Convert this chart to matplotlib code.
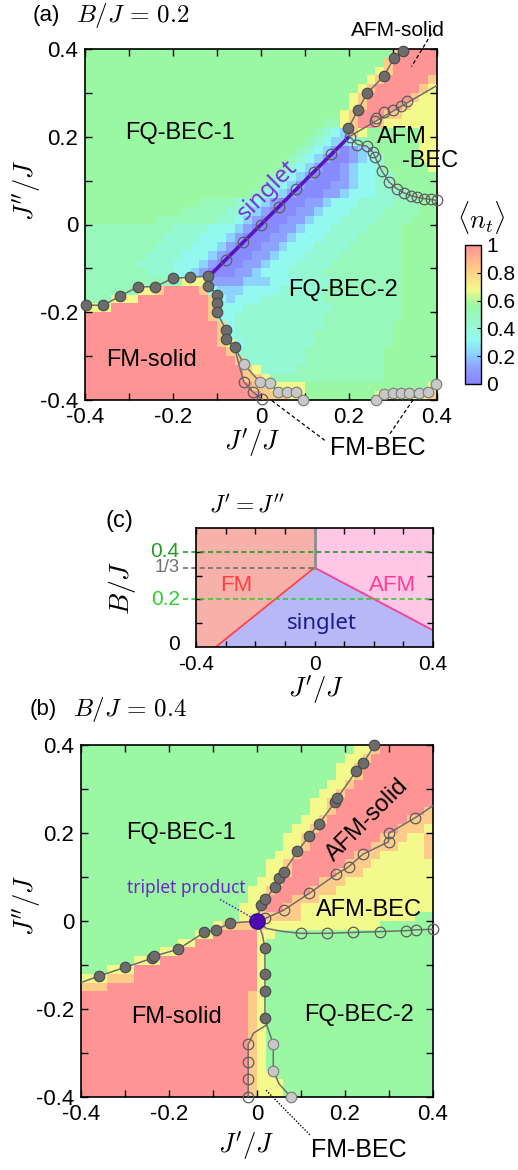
import matplotlib
matplotlib.use("Agg")
import matplotlib.pyplot as plt
import numpy as np
from matplotlib.colors import LinearSegmentedColormap

plt.rcParams['font.family'] = ['Liberation Sans', 'DejaVu Sans']
plt.rcParams['mathtext.fontset'] = 'cm'
plt.rcParams['axes.unicode_minus'] = False

W, H = 518, 1170

#%% <n_t> maps: one digit per 0.02 x 0.02 cell, rows from J''=0.4 (top) to -0.4
nt_levels = [0.03, 0.12, 0.22, 0.32, 0.42, 0.50, 0.57, 0.68, 0.82, 1.00]

nt_map_a = [
    "6666666666" "6666666666" "6666666666" "6666689999",
    "6666666666" "6666666666" "6666666666" "6666899999",
    "6666666666" "6666666666" "6666666666" "6667899999",
    "6666666666" "6666666666" "6666666666" "6678999998",
    "6666666666" "6666666666" "6666666666" "6789999987",
    "6666666666" "6666666666" "6666666666" "7899999877",
    "6666666666" "6666666666" "6666666666" "7899998777",
    "6666666666" "6666666666" "6666666667" "8999887777",
    "6666666666" "6666666666" "6666666557" "8998777777",
    "6666666666" "6666666666" "6666665432" "8766666677",
    "6666666666" "6666666666" "6666654322" "3566666677",
    "6666666666" "6666666666" "6666543210" "1236666677",
    "6666666666" "6666666666" "6665432100" "1234666677",
    "6666666666" "6666666666" "6654321001" "2334666667",
    "6666666666" "6666666666" "6543210001" "2334466666",
    "6666666666" "6666666666" "5432100011" "2334466666",
    "6666666666" "6666666665" "4321000112" "3334445666",
    "6666666666" "6665555443" "2100011233" "3444455566",
    "6666666666" "6555554432" "1000112333" "4444555566",
    "6666666655" "5555544321" "0001123334" "4445555666",
    "5555555555" "4444333210" "0011233344" "4455556666",
    "5555555554" "4443332100" "0112333444" "4555556666",
    "5555555544" "4433321000" "1123334444" "5555556666",
    "5555555444" "4333210001" "1233344445" "5555556666",
    "5555554444" "3332100011" "2333444455" "5555556666",
    "5555555444" "3321000112" "3334444555" "5555556666",
    "5555555555" "5777111122" "2333444455" "5555556666",
    "5555557789" "9998322233" "3344444555" "5555556666",
    "5557779999" "9999832333" "4444444555" "5555556666",
    "7779999999" "9999833344" "4444444455" "5555556666",
    "9999999999" "9999833444" "4444444555" "5555556666",
    "9999999999" "9999983444" "4444444555" "5555566666",
    "9999999999" "9999983444" "4444445555" "5555566666",
    "9999999999" "9999987344" "4444445555" "5555566666",
    "9999999999" "9999998444" "4444455555" "5555666666",
    "9999999999" "9999999844" "4444455555" "5555666666",
    "9999999999" "9999999987" "4444555555" "5555666666",
    "9999999999" "9999999988" "7555555555" "5555666666",
    "9999999999" "9999999998" "8777766666" "6666666667",
    "9999999999" "9999999999" "8887766666" "6667777778",
]

nt_map_b = [
    "6666666666" "6666666666" "6666666666" "6778999999",
    "6666666666" "6666666666" "6666666666" "7789999999",
    "6666666666" "6666666666" "6666666667" "7899999999",
    "6666666666" "6666666666" "6666666667" "7899999999",
    "6666666666" "6666666666" "6666666677" "8999999999",
    "6666666666" "6666666666" "6666666778" "9999999999",
    "6666666666" "6666666666" "6666667789" "9999999999",
    "6666666666" "6666666666" "6666667789" "9999999998",
    "6666666666" "6666666666" "6666677899" "9999999888",
    "6666666666" "6666666666" "6666778999" "9999998887",
    "6666666666" "6666666666" "6667789999" "9999888778",
    "6666666666" "6666666666" "6667789999" "9998887778",
    "6666666666" "6666666666" "6677899999" "9888777778",
    "6666666666" "6666666666" "6778999999" "8887777777",
    "6666666666" "6666666666" "6778999998" "8877777777",
    "6666666666" "6666666666" "7789999888" "7777777777",
    "6666666666" "6666666667" "7899998887" "7777777777",
    "6666666666" "6666666667" "7999888777" "7777777777",
    "6666666666" "6666666677" "8998877777" "7777777777",
    "6666666666" "6666666677" "8888877777" "7777777766",
    "6666666666" "6666678888" "8777777777" "7777666666",
    "6666666666" "6667799999" "7766666666" "6666666666",
    "6666666666" "6779999999" "7666666666" "6666666666",
    "6666666667" "7999999999" "7666666666" "6666666666",
    "6666667779" "9999999999" "7666666666" "6666666666",
    "6667779999" "9999999999" "7666666666" "6666666666",
    "7778889999" "9999999999" "7666666666" "6666666666",
    "8889999999" "9999999999" "7666666666" "6666666666",
    "9999999999" "9999999998" "7666666666" "6666666666",
    "9999999999" "9999999998" "7666666666" "6666666666",
    "9999999999" "9999999998" "7666666666" "6666666666",
    "9999999999" "9999999998" "7666666666" "6666666666",
    "9999999999" "9999999998" "7666666666" "6666666666",
    "9999999999" "9999999998" "7666666666" "6666666666",
    "9999999999" "9999999998" "7666666666" "6666666666",
    "9999999999" "9999999998" "7666666666" "6666666666",
    "9999999999" "9999999998" "7666666666" "6666666666",
    "9999999999" "9999999998" "7766666666" "6666666666",
    "9999999999" "9999999998" "7776666666" "6666666666",
    "9999999999" "9999999998" "7776666666" "6666666666",
]

#%% (a) B/J = 0.2 phase boundary points (J', J'')
a_top_x = [0.198, 0.220, 0.241, 0.280, 0.302, 0.322]
a_top_y = [0.219, 0.260, 0.299, 0.339, 0.379, 0.396]
a_mid_x = [0.258, 0.262, 0.280, 0.299, 0.318, 0.331]
a_mid_y = [0.237, 0.242, 0.256, 0.260, 0.271, 0.281]
a_low_x = [0.202, 0.219, 0.240, 0.254, 0.259, 0.274, 0.291, 0.308, 0.325, 0.340, 0.355, 0.370, 0.386, 0.399]
a_low_y = [0.200, 0.182, 0.179, 0.165, 0.154, 0.123, 0.097, 0.082, 0.072, 0.066, 0.062, 0.059, 0.057, 0.055]
a_sing_pts = [0.16, 0.12, 0.08, 0.04, 0.0, -0.04, -0.08]
a_sing_ends = [-0.12, 0.20]
a_fmtop_x = [-0.397, -0.358, -0.320, -0.280, -0.241, -0.201, -0.161, -0.120]
a_fmtop_y = [-0.184, -0.184, -0.163, -0.142, -0.142, -0.123, -0.120, -0.118]
a_fmside_x = [-0.120, -0.100, -0.099, -0.100, -0.080, -0.080, -0.060]
a_fmside_y = [-0.140, -0.160, -0.180, -0.200, -0.240, -0.260, -0.279]
a_bec_x = [-0.039, -0.002, 0.020, 0.039, 0.059, 0.079, 0.096]
a_bec_y = [-0.318, -0.360, -0.362, -0.381, -0.381, -0.382, -0.400]
a_becopen_x = [-0.039, -0.019, 0.002]
a_becopen_y = [-0.358, -0.381, -0.398]
a_becr_x = [0.261, 0.280, 0.300, 0.318, 0.337, 0.358, 0.379, 0.398]
a_becr_y = [-0.400, -0.386, -0.383, -0.383, -0.383, -0.383, -0.381, -0.364]

#%% (b) B/J = 0.4 phase boundary points
b_top_x = [0.008, 0.019, 0.042, 0.049, 0.061, 0.092, 0.119, 0.140, 0.178, 0.182, 0.226, 0.241, 0.267]
b_top_y = [0.036, 0.050, 0.078, 0.098, 0.112, 0.158, 0.194, 0.220, 0.271, 0.279, 0.341, 0.358, 0.400]
b_mid_x = [0.019, 0.061, 0.119, 0.180, 0.208, 0.241, 0.299, 0.299, 0.360]
b_mid_y = [0.006, 0.025, 0.063, 0.106, 0.123, 0.152, 0.180, 0.199, 0.235]
b_low_x = [0.100, 0.160, 0.219, 0.280, 0.339, 0.361, 0.399]
b_low_y = [-0.028, -0.028, -0.026, -0.024, -0.022, -0.020, -0.019]
b_fmtop_x = [-0.359, -0.299, -0.239, -0.234, -0.179, -0.120, -0.094, -0.061]
b_fmtop_y = [-0.125, -0.105, -0.085, -0.080, -0.064, -0.026, -0.020, -0.005]
b_fmside_x = [0.018, 0.018, 0.018, 0.018]
b_fmside_y = [-0.061, -0.121, -0.159, -0.220]
b_bec_x = [0.037, 0.037, 0.077]
b_bec_y = [-0.280, -0.340, -0.400]
b_becopen_x = [-0.020, -0.020, -0.020, -0.020]
b_becopen_y = [-0.280, -0.320, -0.360, -0.400]

#%% (c) J' = J'' sketch: boundaries (J', B)
c_fm_x = [-1/3, 0.0]
c_fm_b = [0.0, 1/3]
c_afm_x = [0.0, 0.4]
c_afm_b = [1/3, 0.07]
c_cuts = [0.2, 0.4]

nt_cmap = LinearSegmentedColormap.from_list('nt', [
    (0.00, '#8585ff'), (0.12, '#8ea2ff'), (0.22, '#8cd4ff'), (0.32, '#94faf0'),
    (0.42, '#96f8d4'), (0.50, '#98f8bc'), (0.57, '#9cf8a2'), (0.68, '#f4fa8c'),
    (0.82, '#ffcc88'), (1.00, '#ff9494')])

DARK = dict(ls='none', marker='o', ms=7.6, mfc='#6c6c6c', mec='#484848', mew=0.8, clip_on=False, zorder=5)
OPEN = dict(ls='none', marker='o', ms=7.6, mfc='none', mec='#5c5c5c', mew=0.9, clip_on=False, zorder=5)
LIGHT = dict(ls='none', marker='o', ms=7.6, mfc='#c8c8c8', mec='#7a7a7a', mew=0.8, clip_on=False, zorder=5)
LINE = dict(color='#6e6e6e', lw=1.1, zorder=4)
LBL = 17


def grid_of(rows):
    return np.array([[nt_levels[int(c)] for c in (r + r[-1] * 40)[:40]] for r in rows])


def add_axes_px(fig, l, t, r, b):
    return fig.add_axes([l / W, 1 - b / H, (r - l) / W, (b - t) / H])


def ftext(fig, x, y, s, **kw):
    kw.setdefault('ha', 'center')
    kw.setdefault('va', 'center')
    return fig.text(x / W, 1 - y / H, s, **kw)


def style_main(ax):
    ax.set_xlim(-0.4, 0.4)
    ax.set_ylim(-0.4, 0.4)
    t = [-0.4, -0.3, -0.2, -0.1, 0.0, 0.1, 0.2, 0.3, 0.4]
    tl = ['-0.4', '', '-0.2', '', '0', '', '0.2', '', '0.4']
    ax.set_xticks(t)
    ax.set_xticklabels(tl)
    ax.set_yticks(t)
    ax.set_yticklabels(tl)
    ax.tick_params(direction='in', top=True, right=True, length=5, width=1,
                   labelsize=16, pad=5)
    for s in ax.spines.values():
        s.set_linewidth(1.2)


fig = plt.figure(figsize=(W / 100, H / 100), dpi=100)

#%% panel (a)
ax = add_axes_px(fig, 85, 49, 437, 400)
im = ax.imshow(grid_of(nt_map_a), cmap=nt_cmap, vmin=0, vmax=1, origin='upper',
               extent=[-0.4, 0.4, -0.4, 0.4], aspect='auto', interpolation='nearest')
style_main(ax)

ax.plot([0.2] + a_top_x + [0.325], [0.2] + a_top_y + [0.4], **LINE)
ax.plot([0.2, 0.4], [0.2, 0.317], **LINE)
ax.plot([0.2] + a_low_x, [0.2] + a_low_y, **LINE)
ax.plot([-0.4] + a_fmtop_x, [-0.186] + a_fmtop_y, **LINE)
ax.plot([-0.12] + a_fmside_x + a_bec_x, [-0.118] + a_fmside_y + a_bec_y, **LINE)
ax.plot([-0.06, -0.05] + a_becopen_x + [0.004], [-0.279, -0.32] + a_becopen_y + [-0.4], **LINE)
ax.plot(a_becr_x + [0.4], a_becr_y + [-0.36], **LINE)
ax.plot(a_sing_ends, a_sing_ends, color='#5a10c4', lw=2.6, zorder=4, solid_capstyle='butt')

ax.plot(a_top_x, a_top_y, **DARK)
ax.plot(a_mid_x, a_mid_y, **OPEN)
ax.plot(a_low_x, a_low_y, **OPEN)
ax.plot(a_sing_pts, a_sing_pts, **OPEN)
ax.plot(a_fmtop_x, a_fmtop_y, **DARK)
ax.plot(a_fmside_x, a_fmside_y, **DARK)
ax.plot(a_bec_x, a_bec_y, **LIGHT)
ax.plot(a_becopen_x, a_becopen_y, **OPEN)
ax.plot(a_becr_x, a_becr_y, **LIGHT)

ax.text(-0.184, 0.208, 'FQ-BEC-1', fontsize=LBL, ha='center', va='center')
ax.text(0.186, -0.149, 'FQ-BEC-2', fontsize=LBL, ha='center', va='center')
ax.text(-0.25, -0.308, 'FM-solid', fontsize=LBL, ha='center', va='center')
ax.text(0.32, 0.2, 'AFM', fontsize=LBL, ha='center', va='center')
ax.text(0.384, 0.145, '-BEC', fontsize=LBL, ha='center', va='center')
ax.text(0.014, 0.079, 'singlet', fontsize=17, color='#7a2ee0', rotation=45,
        ha='center', va='center', family=['Noto Sans', 'DejaVu Sans'])
ax.text(0.311, 0.443, 'AFM-solid', fontsize=15, ha='center', va='center')
ax.plot([0.395, 0.342], [0.447, 0.36], ls=(0, (3, 2)), color='k', lw=0.9, clip_on=False, zorder=6)
ax.text(0.265, -0.51, 'FM-BEC', fontsize=18, ha='center', va='center')
ax.plot([0.145, 0.02], [-0.492, -0.398], ls=(0, (3, 2)), color='k', lw=0.9, clip_on=False, zorder=6)
ax.plot([0.293, 0.35], [-0.477, -0.393], ls=(0, (3, 2)), color='k', lw=0.9, clip_on=False, zorder=6)

ftext(fig, 33, 16, '(a)', fontsize=16, ha='left')
ftext(fig, 76, 16, r'$B/J\,=\,0.2$', fontsize=18, ha='left')
ftext(fig, 252, 443, r"$J'/J$", fontsize=19)
ftext(fig, 27, 190, r"$J''/J$", fontsize=19, rotation=90)

# colorbar
cax = add_axes_px(fig, 465, 245, 481, 384)
cb = fig.colorbar(im, cax=cax, ticks=[0, 0.2, 0.4, 0.6, 0.8, 1.0])
cb.ax.set_yticklabels(['0', '0.2', '0.4', '0.6', '0.8', '1'])
cb.ax.tick_params(direction='in', length=3, width=0.8, labelsize=15, pad=4)
cb.outline.set_linewidth(1.0)
ftext(fig, 481, 217, r'$\langle n_t \rangle$', fontsize=19)

#%% panel (c)
axc = add_axes_px(fig, 196, 528, 433, 647)
axc.set_xlim(-0.4, 0.4)
axc.set_ylim(0, 0.5)
axc.fill([-0.4] + c_fm_x + [0.0, -0.4], [0.0] + c_fm_b + [0.5, 0.5], color='#f8b0aa', lw=0)
axc.fill(c_afm_x + [0.4, 0.0], c_afm_b + [0.5, 0.5], color='#ffc6e6', lw=0)
axc.fill(c_fm_x + c_afm_x[1:] + [0.4], c_fm_b + c_afm_b[1:] + [0.0], color='#b8b8f6', lw=0)
axc.plot(c_fm_x, c_fm_b, color='#ff4444', lw=1.3)
axc.plot(c_afm_x, c_afm_b, color='#ff3c96', lw=1.3)
axc.plot([0, 0], [1/3, 0.5], color='#8c8c8c', lw=2)
axc.plot([-0.444, 0.4], [c_cuts[1]] * 2, ls=(0, (3, 2)), color='#1f9f1f', lw=1.2, clip_on=False)
axc.plot([-0.444, 0.4], [c_cuts[0]] * 2, ls=(0, (3, 2)), color='#2cd02c', lw=1.2, clip_on=False)
axc.plot([-0.444, 0.0], [1/3, 1/3], ls=(0, (3, 2)), color='#707070', lw=1.2, clip_on=False)
axc.set_xticks([-0.4, -0.3, -0.2, -0.1, 0.0, 0.1, 0.2, 0.3, 0.4])
axc.set_xticklabels(['-0.4', '', '', '', '0', '', '', '', '0.4'])
axc.set_yticks([0.1, 0.2, 0.3, 0.4])
axc.set_yticklabels(['', '', '', ''])
axc.tick_params(direction='in', top=True, right=True, length=4, width=1, labelsize=15, pad=6)
for s in axc.spines.values():
    s.set_linewidth(1.2)
axc.text(-0.455, 0.4, '0.4', color='#1f9f1f', fontsize=15, ha='right', va='center')
axc.text(-0.455, 1/3, '1/3', color='#707070', fontsize=13, ha='right', va='center')
axc.text(-0.455, 0.2, '0.2', color='#2cd02c', fontsize=15, ha='right', va='center')
axc.text(-0.455, 0.01, '0', color='k', fontsize=15, ha='right', va='center')
axc.text(-0.263, 0.257, 'FM', color='#ff4040', fontsize=16, ha='center', va='center')
axc.text(0.265, 0.257, 'AFM', color='#ff3c96', fontsize=16, ha='center', va='center')
axc.text(0.024, 0.1, 'singlet', color='#1c1c8c', fontsize=16, ha='center', va='center',
         family=['Noto Sans', 'DejaVu Sans'])
ftext(fig, 119, 521, '(c)', fontsize=17)
ftext(fig, 247, 506, r"$J'=J''$", fontsize=17)
ftext(fig, 122, 588, r'$B/J$', fontsize=20, rotation=90)
ftext(fig, 316, 690, r"$J'/J$", fontsize=19)

#%% panel (b)
axb = add_axes_px(fig, 81, 745, 433, 1097)
axb.imshow(grid_of(nt_map_b), cmap=nt_cmap, vmin=0, vmax=1, origin='upper',
           extent=[-0.4, 0.4, -0.4, 0.4], aspect='auto', interpolation='nearest')
style_main(axb)

axb.plot([0.0] + b_top_x, [0.0] + b_top_y, **LINE)
axb.plot([0.0] + b_mid_x + [0.4], [0.0] + b_mid_y + [0.262], **LINE)
axb.plot([0.0, 0.022, 0.06] + b_low_x, [0.0, -0.017, -0.024] + b_low_y, **LINE)
axb.plot([-0.4] + b_fmtop_x + [0.0], [-0.14] + b_fmtop_y + [0.0], **LINE)
axb.plot([0.0, 0.012] + b_fmside_x + [0.022], [0.0, -0.03] + b_fmside_y + [-0.236], **LINE)
axb.plot([0.022] + b_bec_x[:2] + [0.05] + b_bec_x[2:], [-0.236] + b_bec_y[:2] + [-0.37] + b_bec_y[2:], **LINE)
axb.plot([0.022, -0.008] + b_becopen_x, [-0.236, -0.255] + b_becopen_y, **LINE)

axb.plot(b_top_x, b_top_y, **DARK)
axb.plot(b_mid_x, b_mid_y, **OPEN)
axb.plot(b_low_x, b_low_y, **OPEN)
axb.plot(b_fmtop_x, b_fmtop_y, **DARK)
axb.plot(b_fmside_x, b_fmside_y, **DARK)
axb.plot(b_bec_x, b_bec_y, **LIGHT)
axb.plot(b_becopen_x, b_becopen_y, **OPEN)
axb.plot([0.0], [0.0], ls='none', marker='o', ms=11, mfc='#4a0cae', mec='#3a0890', zorder=6)

axb.text(-0.173, 0.2, 'FQ-BEC-1', fontsize=LBL, ha='center', va='center')
axb.text(0.25, 0.23, 'AFM-solid', fontsize=LBL, ha='center', va='center', rotation=45)
axb.text(0.255, 0.025, 'AFM-BEC', fontsize=LBL, ha='center', va='center')
axb.text(0.232, -0.214, 'FQ-BEC-2', fontsize=LBL, ha='center', va='center')
axb.text(-0.184, -0.218, 'FM-solid', fontsize=LBL, ha='center', va='center')
axb.text(-0.161, 0.075, 'triplet product', fontsize=12.5, color='#6a28c8', ha='center',
         va='center', family=['Noto Sans', 'DejaVu Sans'])
axb.plot([-0.084, -0.008], [0.049, 0.006], ls=(0, (1, 1.2)), color='#5b1fc0', lw=1.1, zorder=6)
axb.text(0.232, -0.52, 'FM-BEC', fontsize=18, ha='center', va='center')
axb.plot([0.12, 0.02], [-0.486, -0.384], ls=(0, (1, 1.2)), color='k', lw=1.0, clip_on=False, zorder=6)

ftext(fig, 30, 710, '(b)', fontsize=16, ha='left')
ftext(fig, 73, 710, r'$B/J\,=\,0.4$', fontsize=18, ha='left')
ftext(fig, 246, 1146, r"$J'/J$", fontsize=19)
ftext(fig, 27, 905, r"$J''/J$", fontsize=19, rotation=90)

fig.savefig('out.png', dpi=100)
